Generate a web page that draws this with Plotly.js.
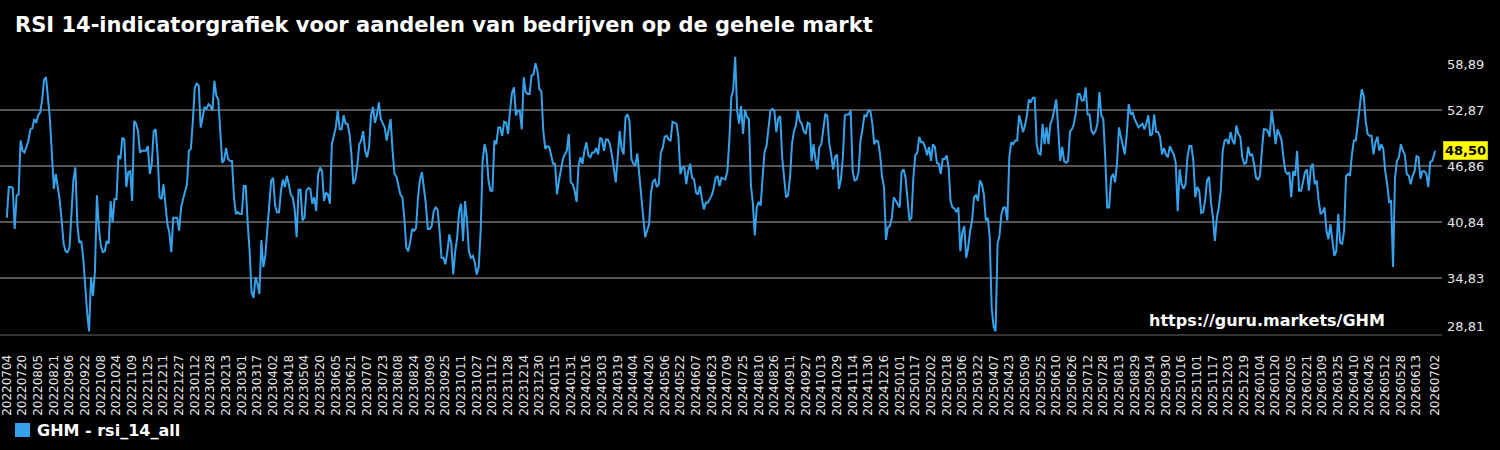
<!DOCTYPE html>
<html>
<head>
<meta charset="utf-8">
<script src="https://cdn.plot.ly/plotly-3.0.1.min.js"></script>
<style>
html,body{margin:0;padding:0;background:#000;}
#chart{width:1500px;height:450px;}
</style>
</head>
<body>
<div id="chart"></div>
<script>
// ---- data ----
const seriesName = "GHM - rsi_14_all";
const startDate = "2022-07-04";     // first observation
const lastDate = "2026-07-02";      // last observation
const sampleStepDays = 2;           // spacing of read-off samples
const tickStepDays = 16;            // spacing of x tick labels
const tickCount = 91;               // regular ticks before the last-date tick
const yTicks = [28.81, 34.83, 40.84, 46.86, 52.87, 58.89];
const lastValue = 48.50;
// RSI values, one every 2 days from 2022-07-04; the last one is on 2026-07-02
const rsiValues = [
41.3,44.6, 44.6,44.5, 40.1,43.7, 43.8,49.6, 48.5,48.3, 48.9,49.6, 50.8,50.9, 51.9,51.5, 52.3,52.6, 53.9,56.1,
56.4,54.0, 51.9,48.2, 44.4,46.0, 44.5,43.2, 41.0,38.5, 37.7,37.6, 38.1,42.2, 45.4,46.7, 40.6,38.6, 38.8,37.0,
33.8,31.1, 29.1,34.9, 32.9,35.6, 43.7,40.2, 38.3,37.6, 37.7,38.8, 38.5,43.1, 40.8,43.3, 43.3,48.0, 47.6,49.9,
49.7,44.6, 46.2,46.3, 43.1,51.7, 51.4,50.6, 48.3,48.5, 48.5,48.5, 49.0,46.0, 47.1,50.6, 50.8,48.1, 43.5,43.3,
44.9,43.0, 40.6,39.7, 37.6,41.3, 41.3,41.3, 39.9,42.4, 43.3,44.2, 44.9,48.5, 48.7,51.7, 55.3,55.7, 55.5,51.0,
52.1,53.2, 53.0,53.5, 53.3,52.8, 56.0,54.4, 54.0,50.0, 47.2,47.5, 48.8,47.6, 47.4,47.4, 43.5,41.7, 41.9,41.7,
41.7,44.7, 44.7,40.8, 37.7,33.3, 32.7,34.9, 34.2,33.1, 38.9,36.0, 37.2,39.9, 43.1,45.3, 45.6,42.6, 41.9,41.9,
44.2,45.4, 44.6,45.8, 44.9,43.8, 43.5,42.2, 39.2,44.3, 44.3,41.0, 41.3,44.2, 44.5,44.4, 42.8,43.5, 42.0,46.0,
46.7,46.3, 43.1,44.0, 43.8,42.8, 49.2,50.3, 51.0,52.8, 50.8,50.8, 52.3,51.4, 51.4,50.3, 48.1,44.9, 45.4,46.9,
49.2,49.6, 50.6,48.5, 47.8,48.9, 52.3,53.2, 51.5,52.3, 53.7,51.9, 51.4,51.0, 49.6,50.6, 51.9,48.5, 46.0,45.7,
44.9,43.8, 43.5,41.3, 38.1,37.7, 38.7,40.1, 39.9,40.2, 43.5,45.4, 46.2,44.4, 42.8,40.1, 40.1,40.4, 42.0,42.4,
42.2,39.9, 37.0,37.0, 36.3,37.7, 39.5,38.5, 35.2,37.7, 39.2,42.0, 42.8,38.8, 43.1,41.0, 37.7,37.0, 37.2,36.5,
35.2,36.0, 39.9,47.4, 49.2,48.2, 45.3,44.2, 44.2,49.6, 49.2,51.0, 51.0,50.1, 51.6,51.5, 50.3,52.8, 54.7,55.3,
52.3,52.8, 52.8,50.8, 56.4,54.8, 54.6,54.6, 56.6,56.7, 57.9,57.1, 55.1,54.9, 50.6,48.7, 49.0,48.9, 47.8,47.1,
47.1,43.8, 45.3,46.5, 47.6,48.1, 48.5,50.3, 45.1,44.9, 44.2,43.0, 46.9,47.8, 47.1,48.5, 49.4,48.0, 47.8,48.3,
48.3,48.8, 48.1,49.9, 49.7,48.5, 49.7,49.7, 49.2,48.1, 46.3,45.1, 47.8,50.6, 48.7,48.1, 52.1,52.4, 51.7,47.6,
47.1,46.9, 48.2,45.8, 43.5,41.1, 39.2,39.9, 40.6,44.0, 45.2,45.4, 44.6,44.9, 48.3,48.8, 50.0,50.1, 49.7,49.6,
51.6,51.5, 51.4,50.0, 46.0,46.7, 46.7,44.9, 46.3,47.1, 45.6,45.4, 44.0,43.8, 44.7,43.3, 42.2,42.9, 42.9,43.3,
43.7,44.4, 45.6,45.8, 44.7,45.6, 45.5,45.4, 46.3,49.6, 54.2,55.1, 58.6,52.8, 51.4,53.3, 50.3,52.9, 52.1,51.9,
44.9,42.9, 39.4,42.4, 43.0,42.6, 45.6,48.4, 49.0,50.6, 52.8,53.0, 52.8,50.5, 52.0,52.2, 47.8,45.6, 43.5,43.7,
45.6,49.2, 50.6,51.2, 52.8,51.7, 51.4,50.6, 50.3,51.5, 51.4,47.4, 49.2,47.6, 46.5,48.9, 49.2,50.8, 52.4,52.3,
49.4,48.1, 46.5,47.8, 48.1,44.4, 45.4,47.8, 52.3,52.4, 52.4,52.8, 46.3,45.3, 45.4,46.2, 49.6,50.8, 52.3,52.2,
52.8,52.8, 51.5,49.2, 49.6,49.5, 48.1,45.7, 44.6,38.9, 40.3,40.4, 41.3,43.5, 43.1,42.8, 42.4,46.2, 46.5,45.6,
42.8,41.0, 41.3,45.6, 48.0,48.3, 50.0,49.4, 49.4,48.9, 48.0,48.9, 47.4,49.2, 48.9,47.2, 47.1,46.0, 47.6,47.6,
48.0,46.7, 43.1,42.4, 42.3,41.9, 42.4,37.7, 39.7,40.4, 37.0,38.1, 39.9,41.0, 43.5,43.7, 43.1,45.3, 44.9,43.8,
41.0,41.3, 39.2,31.6, 29.6,29.1, 38.5,39.4, 41.7,42.4, 42.4,41.0, 47.8,49.4, 49.2,49.6, 49.6,52.3, 51.5,50.5,
51.2,52.3, 54.0,53.7, 54.2,54.2, 49.2,48.2, 48.1,51.4, 49.2,51.0, 49.2,51.4, 51.9,52.8, 54.0,50.8, 47.4,48.9,
47.4,47.2, 47.4,50.6, 50.8,51.4, 52.6,54.6, 54.6,53.9, 53.9,55.3, 52.4,52.4, 50.6,50.3, 50.6,51.4, 54.8,52.3,
51.9,47.8, 42.4,42.4, 45.6,46.0, 45.1,47.1, 51.0,50.0, 49.2,48.1, 50.3,53.5, 52.4,52.6, 51.9,51.5, 51.0,51.2,
51.4,50.8, 51.4,52.3, 50.1,50.3, 52.4,50.5, 50.5,50.0, 48.1,48.8, 48.1,47.8, 49.0,48.5, 48.1,47.2, 42.0,46.5,
44.9,44.4, 44.9,47.8, 49.0,49.0, 47.4,43.5, 44.6,44.2, 41.8,41.9, 43.1,45.3, 45.7,43.0, 41.3,38.8, 41.3,42.4,
44.2,48.5, 49.6,49.7, 49.2,50.5, 49.6,49.2, 51.2,50.3, 50.0,47.8, 47.1,47.2, 48.9,48.0, 48.1,47.1, 45.6,45.4,
45.8,48.5, 50.8,50.8, 50.6,50.0, 52.8,51.2, 49.2,50.8, 50.3,49.7, 47.8,46.3, 46.0,46.2, 43.5,46.3, 45.8,48.5,
44.2,44.2, 45.1,46.2, 46.5,44.2, 46.7,47.1, 44.9,45.3, 43.1,41.7, 41.9,42.4, 39.9,39.0, 40.6,38.8, 37.2,37.7,
41.7,38.6, 38.5,39.9, 45.8,46.0, 45.8,48.1, 49.6,49.6, 51.4,52.8, 55.1,54.4, 51.7,50.3, 50.1,50.1, 48.1,49.4,
50.0,48.5, 49.2,48.7, 46.3,44.9, 43.0,43.1, 36.0,45.6, 47.4,47.8, 49.2,48.5, 48.1,46.0, 45.8,44.9, 45.8,46.3,
47.9,47.8, 45.5,46.3, 46.3,46.0, 44.6,47.3, 47.4,
48.50
];

// ---- helpers ----
const DAY = 86400000;
const t0 = Date.parse(startDate + "T00:00:00Z");
function isoDay(d){ return new Date(t0 + d*DAY).toISOString().slice(0,10); }
function compact(s){ return s.replace(/-/g, ""); }

const dates = rsiValues.map((v,i) => i < rsiValues.length-1 ? isoDay(i*sampleStepDays) : lastDate);
const tickVals = [];
for (let k = 0; k < tickCount; k++) tickVals.push(isoDay(k*tickStepDays));
tickVals.push(lastDate);
const tickText = tickVals.map(compact);

const FONT = "DejaVu Sans";
const lineColor = "#36a2eb";

const traces = [
  {
    x: dates, y: rsiValues, type: "scatter", mode: "lines",
    line: {color: lineColor, width: 2}, showlegend: false, name: seriesName,
    hoverinfo: "skip"
  }
];

const fmt = v => v.toFixed(2).replace(".", ",");
const PW = 1442, PH = 280, PB = 334; // plot width, height, bottom (px)

const layout = {
  width: 1500, height: 450,
  paper_bgcolor: "#000", plot_bgcolor: "#000",
  separators: ",.",
  font: {family: FONT, color: "#fff"},
  margin: {l: 0, r: 58, t: 54, b: 116, pad: 0},
  title: {
    text: "RSI 14-indicatorgrafiek voor aandelen van bedrijven op de gehele markt",
    font: {family: FONT, size: 21, color: "#fff", weight: "bold"},
    xref: "container", x: 0.01, xanchor: "left",
    yref: "container", y: 1 - 25/450, yanchor: "middle"
  },
  xaxis: {
    type: "date",
    range: ["2022-06-27", "2026-07-09"],
    tickmode: "array", tickvals: tickVals, ticktext: tickText,
    tickangle: -90, ticks: "", ticklabelstandoff: 14, ticklabeloverflow: "allow",
    tickfont: {family: FONT, size: 12, color: "#e6e6e6"},
    showgrid: false, zeroline: false,
    showline: true, linecolor: "#333", linewidth: 2
  },
  yaxis: {
    side: "right",
    range: [yTicks[0], yTicks[yTicks.length-1]],
    tickmode: "array", tickvals: yTicks,
    ticktext: yTicks.map((v,i) => (i === 0 || i === yTicks.length-1) ? "" : fmt(v)),
    ticks: "", ticklabelstandoff: 4,
    tickfont: {family: FONT, size: 13, color: "#e6e6e6"},
    showgrid: true, gridcolor: "#555", gridwidth: 2,
    zeroline: false, showline: false
  },
  showlegend: false,
  shapes: [
    { // legend swatch
      type: "rect", xref: "paper", yref: "paper",
      x0: 15/PW, x1: 30/PW, y0: (PB-437)/PH, y1: (PB-423)/PH,
      fillcolor: lineColor, line: {width: 0}
    }
  ],
  annotations: [
    {
      text: seriesName, xref: "paper", x: 35/PW, xanchor: "left",
      yref: "paper", y: (PB-430)/PH, yanchor: "middle",
      showarrow: false, font: {family: FONT, size: 16, color: "#fff", weight: "bold"}
    },
    {
      text: fmt(yTicks[yTicks.length-1]), xref: "paper", x: 1, xanchor: "left", xshift: 3,
      yref: "y", y: yTicks[yTicks.length-1], yshift: -10, yanchor: "middle",
      showarrow: false, font: {family: FONT, size: 13, color: "#e6e6e6"}
    },
    {
      text: fmt(yTicks[0]), xref: "paper", x: 1, xanchor: "left", xshift: 3,
      yref: "y", y: yTicks[0], yshift: 8, yanchor: "middle",
      showarrow: false, font: {family: FONT, size: 13, color: "#e6e6e6"}
    },
    {
      text: fmt(lastValue), xref: "paper", x: 1, xanchor: "left", xshift: 1,
      yref: "y", y: lastValue, yanchor: "middle",
      showarrow: false, bgcolor: "#ffff00", bordercolor: "#c8c800", borderwidth: 1, borderpad: 1,
      font: {family: FONT, size: 13, color: "#000", weight: "bold"}
    },
    {
      text: "https://guru.markets/GHM", xref: "paper", x: 1387/PW, xanchor: "right",
      yref: "paper", y: 14/PH, yanchor: "middle",
      showarrow: false, font: {family: FONT, size: 16, color: "#fff", weight: "bold"}
    }
  ]
};

Plotly.newPlot("chart", traces, layout, {staticPlot: true, displayModeBar: false});
</script>
</body>
</html>
